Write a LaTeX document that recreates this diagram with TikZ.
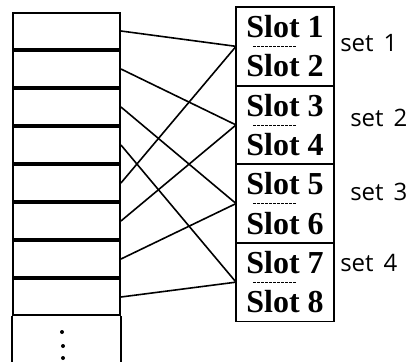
\documentclass[tikz,border=0pt]{standalone}
\usepackage{fontspec}
\setmainfont{Liberation Serif}
\newfontfamily\handfont{Open Sans}
\usetikzlibrary{positioning}

\begin{document}
\begin{tikzpicture}[
  x=1pt,y=-1pt,
  node distance=0pt,
  line width=1.9pt,
  row/.style={draw,minimum width=107pt,minimum height=36.1pt,inner sep=0pt},
  slot/.style={minimum width=96pt,minimum height=37.4pt,inner sep=0pt,font=\fontsize{32}{34}\selectfont\bfseries},
  setlabel/.style={anchor=west,font=\handfont\fontsize{24}{26}\selectfont},
  link/.style={line width=1.6pt},
  split/.style={dashed,line width=0.8pt,dash pattern=on 2.5pt off 1.5pt},
]
  \useasboundingbox (0,0) rectangle (416,362);

  % memory blocks
  \node[row] (row1) at (66.5,31) {};
  \node[row,below=of row1] (row2) {};
  \node[row,below=of row2] (row3) {};
  \node[row,below=of row3] (row4) {};
  \node[row,below=of row4] (row5) {};
  \node[row,below=of row5] (row6) {};
  \node[row,below=of row6] (row7) {};
  \node[row,below=of row7] (row8) {};
  \draw (row8.south west) -- ++(0,62);
  \draw (row8.south east) -- ++(0,62);
  \fill (62,332) circle (2pt);
  \fill (63,346) circle (2pt);
  \fill (63,358) circle (2pt);

  % cache slots
  \node[slot] (slot1) at (285,26.7) {Slot 1};
  \node[slot,below=of slot1] (slot2) {Slot 2};
  \node[slot,below=of slot2] (slot3) {Slot 3};
  \node[slot,below=of slot3] (slot4) {Slot 4};
  \node[slot,below=of slot4] (slot5) {Slot 5};
  \node[slot,below=of slot5] (slot6) {Slot 6};
  \node[slot,below=of slot6] (slot7) {Slot 7};
  \node[slot,below=of slot7] (slot8) {Slot 8};
  \draw (slot1.north west) rectangle (slot2.south east);
  \draw (slot3.north west) rectangle (slot4.south east);
  \draw (slot5.north west) rectangle (slot6.south east);
  \draw (slot7.north west) rectangle (slot8.south east);
  \draw[split] ([xshift=17pt]slot1.south west) -- ([xshift=60pt]slot1.south west);
  \draw[split] ([xshift=17pt]slot3.south west) -- ([xshift=60pt]slot3.south west);
  \draw[split] ([xshift=17pt]slot5.south west) -- ([xshift=60pt]slot5.south west);
  \draw[split] ([xshift=17pt]slot7.south west) -- ([xshift=60pt]slot7.south west);

  % set names
  \node[setlabel] (set1) at (336,43) {set\hspace{10pt}1};
  \node[setlabel] (set2) at (346,118) {set\hspace{10pt}2};
  \node[setlabel] (set3) at (346,192) {set\hspace{10pt}3};
  \node[setlabel] (set4) at (336,263) {set\hspace{10pt}4};

  % block i goes to set (i mod 4)
  \draw[link] (row1.east) -- (slot1.south west);
  \draw[link] (row2.east) -- (slot3.south west);
  \draw[link] (row3.east) -- (slot5.south west);
  \draw[link] (row4.east) -- (slot7.south west);
  \draw[link] (row5.east) -- (slot1.south west);
  \draw[link] (row6.east) -- (slot3.south west);
  \draw[link] (row7.east) -- (slot5.south west);
  \draw[link] (row8.east) -- (slot7.south west);
\end{tikzpicture}
\end{document}
